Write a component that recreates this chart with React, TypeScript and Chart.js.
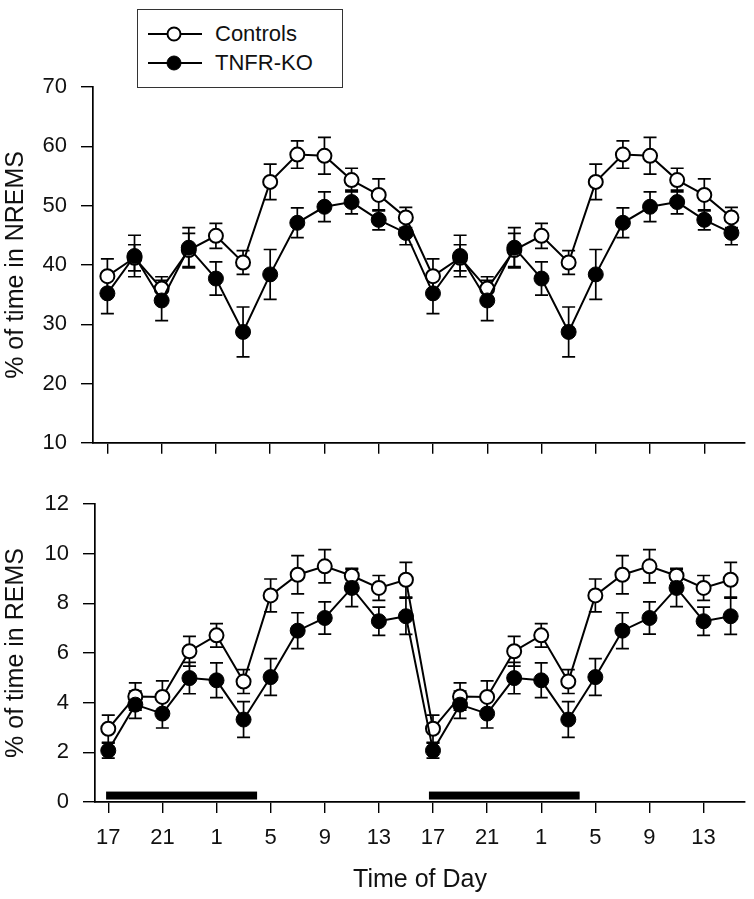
import React, { useEffect, useRef } from 'react';
import { Chart, registerables } from 'chart.js';

Chart.register(...registerables);

const FONT = '"Liberation Sans", Arial, Helvetica, sans-serif';

// Time of day for each 2-h bin (two days double-plotted)
const hours = [17, 19, 21, 23, 1, 3, 5, 7, 9, 11, 13, 15, 17, 19, 21, 23, 1, 3, 5, 7, 9, 11, 13, 15];
const xTickPositions = [0, 2, 4, 6, 8, 10, 12, 14, 16, 18, 20, 22];
const xTickLabels = ['17', '21', '1', '5', '9', '13', '17', '21', '1', '5', '9', '13'];

// NREMS (%)
const nremsControls = [38.1, 41.2, 36.0, 42.5, 44.9, 40.4, 54.0, 58.6, 58.4, 54.3, 51.8, 48.0, 38.1, 41.2, 36.0, 42.5, 44.9, 40.4, 54.0, 58.6, 58.4, 54.3, 51.8, 48.0];
const nremsControlsSem = [2.9, 2.2, 2.0, 2.8, 2.1, 2.0, 3.0, 2.3, 3.1, 2.0, 2.7, 1.7, 2.9, 2.2, 2.0, 2.8, 2.1, 2.0, 3.0, 2.3, 3.1, 2.0, 2.7, 1.7];
const nremsKO = [35.2, 41.5, 34.0, 42.9, 37.7, 28.7, 38.4, 47.1, 49.8, 50.6, 47.6, 45.4, 35.2, 41.5, 34.0, 42.9, 37.7, 28.7, 38.4, 47.1, 49.8, 50.6, 47.6, 45.4];
const nremsKOSem = [3.4, 3.5, 3.4, 3.4, 2.8, 4.2, 4.2, 2.5, 2.5, 2.0, 1.7, 2.0, 3.4, 3.5, 3.4, 3.4, 2.8, 4.2, 4.2, 2.5, 2.5, 2.0, 1.7, 2.0];

// REMS (%)
const remsControls = [2.95, 4.25, 4.23, 6.07, 6.71, 4.85, 8.32, 9.15, 9.49, 9.11, 8.62, 8.95, 2.95, 4.25, 4.23, 6.07, 6.71, 4.85, 8.32, 9.15, 9.49, 9.11, 8.62, 8.95];
const remsControlsSem = [0.55, 0.55, 0.65, 0.6, 0.47, 0.48, 0.66, 0.77, 0.67, 0.3, 0.5, 0.7, 0.55, 0.55, 0.65, 0.6, 0.47, 0.48, 0.66, 0.77, 0.67, 0.3, 0.5, 0.7];
const remsKO = [2.07, 3.92, 3.56, 4.99, 4.9, 3.32, 5.03, 6.9, 7.41, 8.62, 7.28, 7.48, 2.07, 3.92, 3.56, 4.99, 4.9, 3.32, 5.03, 6.9, 7.41, 8.62, 7.28, 7.48];
const remsKOSem = [0.3, 0.55, 0.58, 0.63, 0.7, 0.72, 0.74, 0.72, 0.65, 0.75, 0.57, 0.73, 0.3, 0.55, 0.58, 0.63, 0.7, 0.72, 0.74, 0.72, 0.65, 0.75, 0.57, 0.73];

// Dark period bars (in bin units on the x axis)
const darkStart = [-0.08, 11.85];
const darkEnd = [5.5, 17.42];
const darkLow = 0.1;
const darkHigh = 0.42;

const seriesNames = ['Controls', 'TNFR-KO'];

const errorBarPlugin = {
  id: 'errorBars',
  beforeDatasetsDraw(chart: any) {
    const { ctx } = chart;
    const xs = chart.scales.x;
    const ys = chart.scales.y;
    ctx.save();
    ctx.strokeStyle = '#000';
    ctx.lineWidth = 1.7;
    chart.data.datasets.forEach((ds: any) => {
      if (!ds.errors) return;
      ds.data.forEach((p: any, i: number) => {
        const e = ds.errors[i];
        const x = xs.getPixelForValue(p.x);
        const yt = ys.getPixelForValue(p.y + e);
        const yb = ys.getPixelForValue(p.y - e);
        const cw = 6.5;
        ctx.beginPath();
        ctx.moveTo(x, yt);
        ctx.lineTo(x, yb);
        ctx.moveTo(x - cw, yt);
        ctx.lineTo(x + cw, yt);
        ctx.moveTo(x - cw, yb);
        ctx.lineTo(x + cw, yb);
        ctx.stroke();
      });
    });
    ctx.restore();
  },
};

const darkBarPlugin = {
  id: 'darkBars',
  afterDatasetsDraw(chart: any, _args: any, opts: any) {
    if (!opts || !opts.show) return;
    const { ctx } = chart;
    const xs = chart.scales.x;
    const ys = chart.scales.y;
    ctx.save();
    ctx.fillStyle = '#000';
    darkStart.forEach((s, i) => {
      const x0 = xs.getPixelForValue(s);
      const x1 = xs.getPixelForValue(darkEnd[i]);
      const y0 = ys.getPixelForValue(darkHigh);
      const y1 = ys.getPixelForValue(darkLow);
      ctx.fillRect(x0, y0, x1 - x0, y1 - y0);
    });
    ctx.restore();
  },
};

function toPoints(vals: number[]) {
  return vals.map((v, i) => ({ x: i, y: v, h: hours[i] }));
}

function makeConfig(p: any): any {
  const datasets = [
    {
      label: seriesNames[1],
      data: toPoints(p.ko),
      errors: p.koSem,
      borderColor: '#000',
      borderWidth: 2,
      pointRadius: 7.5,
      pointBackgroundColor: '#000',
      pointBorderColor: '#000',
      pointBorderWidth: 1,
      order: 0,
    },
    {
      label: seriesNames[0],
      data: toPoints(p.ctrl),
      errors: p.ctrlSem,
      borderColor: '#000',
      borderWidth: 2,
      pointRadius: 7,
      pointBackgroundColor: '#fff',
      pointBorderColor: '#000',
      pointBorderWidth: 2,
      order: 1,
    },
  ];
  return {
    type: 'line',
    data: { datasets },
    plugins: [errorBarPlugin, darkBarPlugin],
    options: {
      animation: false,
      responsive: false,
      devicePixelRatio: 1,
      layout: { padding: p.padding },
      plugins: {
        legend: { display: false },
        tooltip: { enabled: false },
        darkBars: { show: p.showDark },
      },
      scales: {
        x: {
          type: 'linear',
          min: p.xMin,
          max: p.xMax,
          afterBuildTicks: (scale: any) => {
            scale.ticks = xTickPositions.map((v) => ({ value: v }));
          },
          afterFit: (scale: any) => {
            scale.height = p.xHeight;
          },
          border: { display: true, color: '#000', width: 1.7 },
          grid: { display: true, drawOnChartArea: false, drawTicks: true, tickLength: 11, color: '#000', lineWidth: 1.4 },
          ticks: {
            autoSkip: false,
            maxRotation: 0,
            padding: 12,
            color: '#111',
            font: { family: FONT, size: 22 },
            callback: (v: any) => {
              if (!p.showXLabels) return '';
              const i = xTickPositions.indexOf(v);
              return i >= 0 ? xTickLabels[i] : '';
            },
          },
          title: {
            display: !!p.xTitle,
            text: p.xTitle || '',
            color: '#111',
            font: { family: FONT, size: 25, lineHeight: 1.2 },
            padding: { top: 0, bottom: 4 },
          },
        },
        y: {
          min: p.yMin,
          max: p.yMax,
          afterFit: (scale: any) => {
            scale.width = p.yWidth;
          },
          border: { display: true, color: '#000', width: 1.7 },
          grid: { display: true, drawOnChartArea: false, drawTicks: true, tickLength: 12, color: '#000', lineWidth: 1.4 },
          ticks: {
            stepSize: p.yStep,
            padding: 14,
            color: '#111',
            font: { family: FONT, size: 22 },
          },
          title: {
            display: true,
            text: p.yTitle,
            color: '#111',
            font: { family: FONT, size: 25, lineHeight: 1.2 },
            padding: { top: 1, bottom: 0 },
          },
        },
      },
    },
  };
}

function ChartCanvas({ config, width, height, style }: any) {
  const ref = useRef<HTMLCanvasElement | null>(null);
  useEffect(() => {
    if (!ref.current) return;
    const chart = new Chart(ref.current, config);
    return () => chart.destroy();
  }, []);
  return <canvas ref={ref} width={width} height={height} style={{ display: 'block', position: 'absolute', width, height, ...style }} />;
}

export default function App() {
  const topCfg = makeConfig({
    ctrl: nremsControls,
    ctrlSem: nremsControlsSem,
    ko: nremsKO,
    koSem: nremsKOSem,
    yMin: 10,
    yMax: 70,
    yStep: 10,
    xMin: -0.53,
    xMax: 23.5,
    yTitle: '% of time in NREMS',
    xTitle: '',
    showXLabels: false,
    showDark: false,
    padding: { left: 0, right: 6, top: 87, bottom: 0 },
    yWidth: 93,
    xHeight: 24,
  });
  const bottomCfg = makeConfig({
    ctrl: remsControls,
    ctrlSem: remsControlsSem,
    ko: remsKO,
    koSem: remsKOSem,
    yMin: 0,
    yMax: 12,
    yStep: 2,
    xMin: -0.49,
    xMax: 23.53,
    yTitle: '% of time in REMS',
    xTitle: 'Time of Day',
    showXLabels: true,
    showDark: true,
    padding: { left: 0, right: 9, top: 34, bottom: 0 },
    yWidth: 95,
    xHeight: 97,
  });

  const legendText: any = {
    position: 'absolute',
    left: 215,
    fontFamily: FONT,
    fontSize: 22,
    lineHeight: '22px',
    color: '#111',
    whiteSpace: 'nowrap',
  };

  return (
    <div style={{ position: 'absolute', left: 0, top: 0, width: 754, height: 899, background: '#fff', overflow: 'hidden' }}>
      <ChartCanvas config={topCfg} width={754} height={470} style={{ left: 0, top: 0 }} />
      <ChartCanvas config={bottomCfg} width={754} height={429} style={{ left: 0, top: 470 }} />
      <div style={{ position: 'absolute', left: 137, top: 9, width: 204, height: 77, border: '1px solid #333', background: '#fff' }} />
      <svg width={754} height={100} style={{ position: 'absolute', left: 0, top: 0 }}>
        <line x1={148} y1={34} x2={202} y2={34} stroke="#000" strokeWidth={2} />
        <circle cx={174} cy={34} r={6.5} fill="#fff" stroke="#000" strokeWidth={2} />
        <line x1={148} y1={63} x2={202} y2={63} stroke="#000" strokeWidth={2} />
        <circle cx={174} cy={63} r={7} fill="#000" stroke="#000" strokeWidth={1} />
      </svg>
      <div style={{ ...legendText, top: 23 }}>{seriesNames[0]}</div>
      <div style={{ ...legendText, top: 52 }}>{seriesNames[1]}</div>
    </div>
  );
}
